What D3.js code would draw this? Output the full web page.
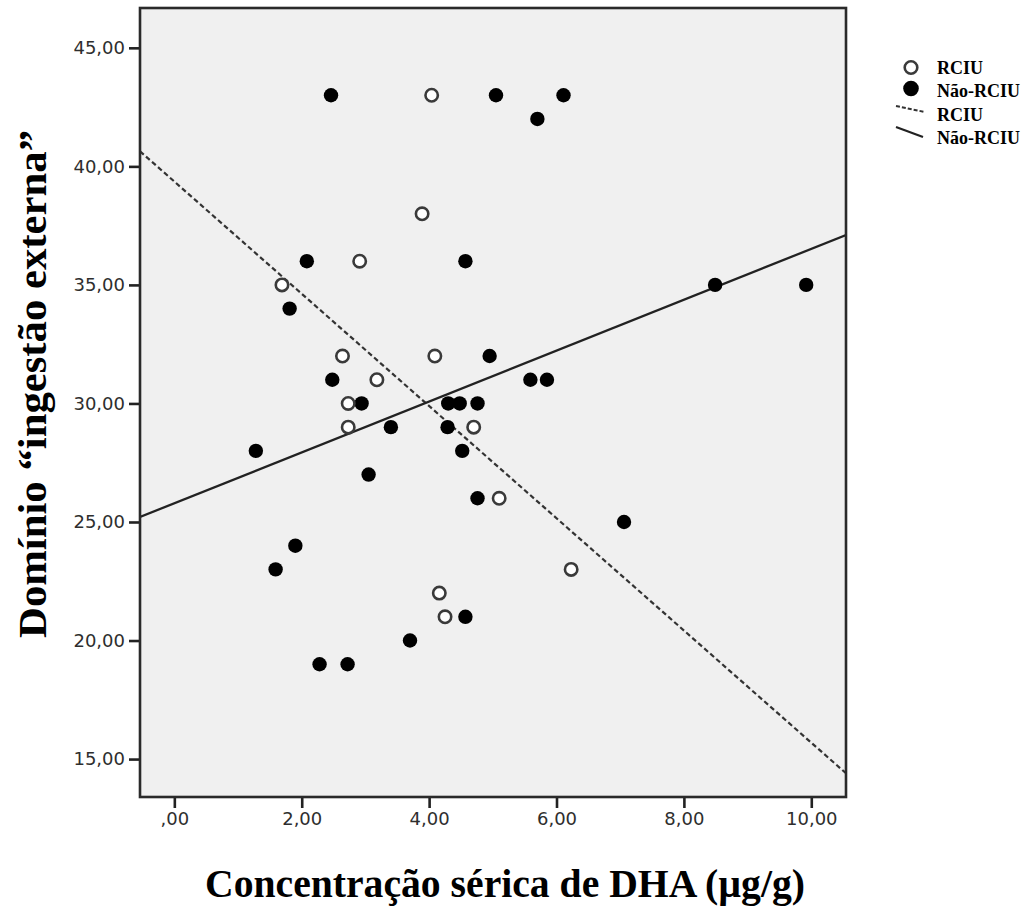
<!DOCTYPE html>
<html>
<head>
<meta charset="utf-8">
<script src="https://cdn.jsdelivr.net/npm/d3@7"></script>
<style>
  body { margin: 0; background: #ffffff; }
  svg { display: block; }
</style>
</head>
<body>
<div id="chart"></div>
<script>
// data
var rciuX = [4.04, 3.89, 2.91, 1.69, 2.64, 4.09, 3.18, 2.73, 2.73, 4.70, 5.10, 6.23, 4.16, 4.25];
var rciuY = [43, 38, 36, 35, 32, 32, 31, 30, 29, 29, 26, 23, 22, 21];

var naoX = [2.46, 5.05, 6.11, 5.70, 2.08, 4.57, 1.81, 4.95, 2.48, 5.59, 5.85, 2.94, 4.30, 4.48, 4.76,
            3.40, 4.29, 1.28, 4.52, 3.05, 4.76, 7.06, 1.90, 1.59, 4.57, 3.70, 2.28, 2.72, 8.49, 9.92];
var naoY = [43, 43, 43, 42, 36, 36, 34, 32, 31, 31, 31, 30, 30, 30, 30,
            29, 29, 28, 28, 27, 26, 25, 24, 23, 21, 20, 19, 19, 35, 35];

// fit lines: [intercept, slope]
var rciuFit = [39.36, -2.367];
var naoFit = [25.79, 1.073];

var xTicks = [0, 2, 4, 6, 8, 10];
var yTicks = [15, 20, 25, 30, 35, 40, 45];

var legendLabels = ["RCIU", "Não-RCIU", "RCIU", "Não-RCIU"];
var xTitle = "Concentração sérica de DHA (µg/g)";
var yTitle = "Domínio “ingestão externa”";

// layout
var W = 1034, H = 910;
var plot = {left: 140, right: 846, top: 8, bottom: 797};

var svg = d3.select("#chart").append("svg")
    .attr("width", W).attr("height", H);

var xscale = d3.scaleLinear().domain([-0.539, 10.545]).range([plot.left, plot.right]);
var yscale = d3.scaleLinear().domain([13.40, 46.68]).range([plot.bottom, plot.top]);

// number format like SPSS (comma decimal, no leading zero)
var fmt = function(v) {
    var s = d3.format(".2f")(v).replace(".", ",");
    if (v === 0) s = ",00";
    return s;
};

// plot background
svg.append("rect")
    .attr("x", plot.left).attr("y", plot.top)
    .attr("width", plot.right - plot.left).attr("height", plot.bottom - plot.top)
    .attr("fill", "#f0f0f0");

svg.append("clipPath").attr("id", "clip").append("rect")
    .attr("x", plot.left).attr("y", plot.top)
    .attr("width", plot.right - plot.left).attr("height", plot.bottom - plot.top);

// axes
var yaxis = d3.axisLeft(yscale).tickValues(yTicks).tickFormat(fmt).tickSize(11).tickPadding(4);
var gy = svg.append("g").attr("transform", "translate(" + plot.left + ",0)").call(yaxis);
var xaxis = d3.axisBottom(xscale).tickValues(xTicks).tickFormat(fmt).tickSize(11).tickPadding(4);
var gx = svg.append("g").attr("transform", "translate(0," + plot.bottom + ")").call(xaxis);

[gx, gy].forEach(function(g) {
    g.select(".domain").remove();
    g.selectAll(".tick line").attr("stroke", "#222").attr("stroke-width", 2.6);
    g.selectAll(".tick text").attr("fill", "#2e2e2e")
        .style("font-family", "'DejaVu Sans', sans-serif").style("font-size", "18px");
});

// fit lines
var lines = svg.append("g").attr("clip-path", "url(#clip)");
var dom = xscale.domain();
var fitLine = function(fit) {
    return d3.line().x(function(d) { return xscale(d); })
        .y(function(d) { return yscale(fit[0] + fit[1] * d); })(dom);
};
lines.append("path").attr("d", fitLine(rciuFit))
    .attr("fill", "none").attr("stroke", "#333").attr("stroke-width", 2.2)
    .attr("stroke-dasharray", "5,3");
lines.append("path").attr("d", fitLine(naoFit))
    .attr("fill", "none").attr("stroke", "#222").attr("stroke-width", 2.3);

// points
var naoData = naoX.map(function(d, i) { return {x: d, y: naoY[i]}; });
var rciuData = rciuX.map(function(d, i) { return {x: d, y: rciuY[i]}; });

svg.append("g").selectAll("circle").data(naoData).enter().append("circle")
    .attr("cx", function(d) { return xscale(d.x); })
    .attr("cy", function(d) { return yscale(d.y); })
    .attr("r", 7.2).attr("fill", "#000");

svg.append("g").selectAll("circle").data(rciuData).enter().append("circle")
    .attr("cx", function(d) { return xscale(d.x); })
    .attr("cy", function(d) { return yscale(d.y); })
    .attr("r", 6.2).attr("fill", "#fff").attr("stroke", "#3a3a3a").attr("stroke-width", 2.6);

// frame
svg.append("rect")
    .attr("x", plot.left).attr("y", plot.top)
    .attr("width", plot.right - plot.left).attr("height", plot.bottom - plot.top)
    .attr("fill", "none").attr("stroke", "#2a2a2a").attr("stroke-width", 2.6);

// axis titles
svg.append("text").text(xTitle)
    .attr("x", 505).attr("y", 897)
    .attr("text-anchor", "middle")
    .attr("textLength", 600).attr("lengthAdjust", "spacingAndGlyphs")
    .style("font-family", "'Liberation Serif', 'Times New Roman', serif")
    .style("font-weight", "bold").style("font-size", "40px").attr("fill", "#000");

svg.append("text").text(yTitle)
    .attr("transform", "translate(46,384) rotate(-90)")
    .attr("text-anchor", "middle")
    .attr("textLength", 508).attr("lengthAdjust", "spacingAndGlyphs")
    .style("font-family", "'Liberation Serif', 'Times New Roman', serif")
    .style("font-weight", "bold").style("font-size", "40px").attr("fill", "#000");

// legend
var leg = svg.append("g");
var rowY = [74, 97, 121, 144];
leg.append("circle").attr("cx", 911).attr("cy", rowY[0] - 6.5).attr("r", 6.3)
    .attr("fill", "#fff").attr("stroke", "#3a3a3a").attr("stroke-width", 2.6);
leg.append("circle").attr("cx", 911).attr("cy", rowY[1] - 8.5).attr("r", 7.8)
    .attr("fill", "#000");
leg.append("line").attr("x1", 896).attr("y1", rowY[2] - 15).attr("x2", 925).attr("y2", rowY[2] - 9)
    .attr("stroke", "#333").attr("stroke-width", 2).attr("stroke-dasharray", "4,2");
leg.append("line").attr("x1", 896).attr("y1", rowY[3] - 17).attr("x2", 923).attr("y2", rowY[3] - 7)
    .attr("stroke", "#222").attr("stroke-width", 2.2);

leg.selectAll("text.lab").data(legendLabels).enter().append("text")
    .attr("class", "lab")
    .attr("x", 937).attr("y", function(d, i) { return rowY[i]; })
    .text(function(d) { return d; })
    .style("font-family", "'Liberation Serif', 'Times New Roman', serif")
    .style("font-weight", "bold").style("font-size", "18px").attr("fill", "#000");
</script>
</body>
</html>
